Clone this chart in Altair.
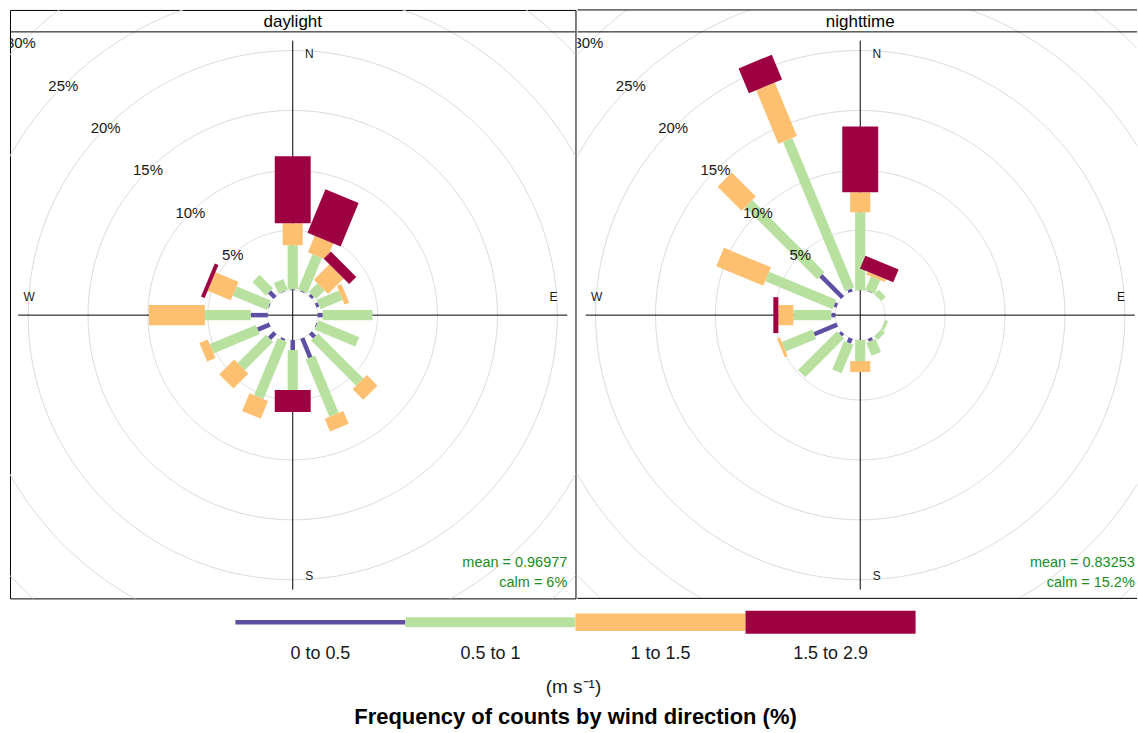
import altair as alt
import numpy as np
import pandas as pd

# ---------------------------------------------------------------- data
directions = ["N", "NNE", "NE", "ENE", "E", "ESE", "SE", "SSE",
              "S", "SSW", "SW", "WSW", "W", "WNW", "NW", "NNW"]
speed_bins = ["0 to 0.5", "0.5 to 1", "1 to 1.5", "1.5 to 2.9"]
panels = ["daylight", "nighttime"]

# frequency (%) of each wind-speed bin, per direction
daylight_0_05 = [0.08, 0.08, 0.25, 0.25, 0.42, 0.08, 0.50, 1.75,
                 0.83, 0.17, 0.67, 1.08, 1.42, 0.08, 0.67, 0.04]
daylight_05_1 = [3.67, 3.17, 1.00, 2.00, 4.16, 3.67, 5.33, 5.17,
                 3.34, 5.16, 3.33, 4.17, 3.83, 3.09, 1.58, 0.96]
daylight_1_15 = [1.83, 1.50, 1.83, 0.42, 0.00, 0.00, 1.25, 1.16,
                 0.00, 1.59, 1.75, 0.75, 4.67, 2.08, 0.00, 0.00]
daylight_15_29 = [5.59, 3.92, 0.84, 0.00, 0.00, 0.00, 0.00, 0.00,
                  1.83, 0.00, 0.00, 0.00, 0.00, 0.33, 0.00, 0.00]

nighttime_0_05 = [0.00, 0.04, 0.00, 0.00, 0.00, 0.00, 0.00, 0.25,
                  0.00, 0.42, 0.25, 2.08, 0.33, 0.25, 2.58, 0.25]
nighttime_05_1 = [6.50, 1.21, 0.50, 0.00, 0.00, 0.25, 0.42, 1.17,
                  1.75, 2.58, 4.58, 2.75, 3.17, 6.08, 8.50, 13.50]
nighttime_1_15 = [1.67, 0.25, 0.00, 0.00, 0.00, 0.00, 0.00, 0.00,
                  0.92, 0.00, 0.00, 0.25, 1.25, 4.25, 2.84, 4.83]
nighttime_15_29 = [5.50, 1.17, 0.00, 0.00, 0.00, 0.00, 0.00, 0.00,
                   0.00, 0.00, 0.00, 0.00, 0.42, 0.00, 0.00, 2.25]

mean_speed = ["0.96977", "0.83253"]
calm_share = ["6%", "15.2%"]

freqs = {
    "daylight": [daylight_0_05, daylight_05_1, daylight_1_15, daylight_15_29],
    "nighttime": [nighttime_0_05, nighttime_05_1, nighttime_1_15, nighttime_15_29],
}

# ---------------------------------------------------------------- style
bin_colours = ["#5E4FA2", "#B8E1A0", "#FDC070", "#9E0142"]
key_heights = [4.5, 10, 17.5, 23]
GRID_COL = "#D9D9D9"
CALM_COL = "#228B22"
FONT = "Liberation Sans"

PANEL_W = 567          # full panel width
NIGHT_W = 561          # visible part of the second panel
PLOT_H = 568
STRIP_H = 22
TOTAL_W = PANEL_W + NIGHT_W
LEGEND_H = 133
KEY_W = 170.5

# ---------------------------------------------------------------- geometry (percent units)
max_freq = max(sum(b[k] for b in bins)
               for bins in freqs.values() for k in range(len(directions)))
off_set = 0.1 * max_freq
reach = max_freq + off_set
half = 1.03 * reach
px = PANEL_W / (2 * half)           # pixels per percent

# paddle widths grow with wind speed
box_half = np.linspace(0.002 ** 0.25, 0.016 ** 0.25, len(speed_bins)) ** 4 * max_freq * 22.5 / 5
bar_widths = [float(w) for w in 2 * box_half * px]

bar_rows = []
for p in panels:
    for k, d in enumerate(directions):
        th = np.deg2rad(22.5 * k)
        cum = off_set
        for j, b in enumerate(speed_bins):
            v = freqs[p][j][k]
            if v > 0:
                r0, r1 = cum, cum + v
                bar_rows.append(dict(panel=p, dir=d, bin=b,
                                     x=r0 * np.sin(th), y=r0 * np.cos(th),
                                     x2=r1 * np.sin(th), y2=r1 * np.cos(th)))
            cum += v
bars = pd.DataFrame(bar_rows)

grid_step = 5
ring_vals = np.arange(0, 2 * max_freq + 1e-9, grid_step)
ang = np.deg2rad(np.arange(0, 360.5, 0.5))
rings = pd.concat([
    pd.DataFrame({"ring": i, "o": np.arange(len(ang)),
                  "x": (off_set + rv) * np.sin(ang), "y": (off_set + rv) * np.cos(ang)})
    for i, rv in enumerate(ring_vals)
])

lab_vals = ring_vals[(ring_vals > 0) & (ring_vals <= 30)]
lab_ang = np.deg2rad(315)
ring_labels = pd.DataFrame({
    "label": [f"{int(v)}%" for v in lab_vals],
    "x": (off_set + lab_vals) * np.sin(lab_ang),
    "y": (off_set + lab_vals) * np.cos(lab_ang),
})

compass = pd.DataFrame({
    "label": ["N", "E", "S", "W"],
    "x": [0.06 * reach, 0.95 * reach, 0.06 * reach, -0.96 * reach],
    "y": [0.95 * reach, 0.065 * reach, -0.95 * reach, 0.065 * reach],
})

cross = pd.DataFrame({
    "x": [-reach, 0.0], "y": [0.0, -reach],
    "x2": [reach, 0.0], "y2": [0.0, reach],
})

one_row = alt.Data(values=[{}])


def panel(idx, width):
    name = panels[idx]
    xs = alt.Scale(domain=[-half, -half + width / px], nice=False, zero=False)
    ys = alt.Scale(domain=[-PLOT_H / 2 / px, (PLOT_H / 2 + STRIP_H) / px],
                   nice=False, zero=False)

    def X(f):
        return alt.X(f, type="quantitative", scale=xs, axis=None)

    def Y(f):
        return alt.Y(f, type="quantitative", scale=ys, axis=None)

    grid = alt.Chart(rings).mark_line(color=GRID_COL, strokeWidth=1, clip=True).encode(
        x=X("x"), y=Y("y"), detail="ring:N", order="o:Q")

    axes_lines = alt.Chart(cross).mark_rule(color="black", strokeWidth=1).encode(
        x=X("x"), y=Y("y"), x2="x2:Q", y2="y2:Q")

    paddles = alt.Chart(bars[bars.panel == name]).mark_rule(strokeCap="butt").encode(
        x=X("x"), y=Y("y"), x2="x2:Q", y2="y2:Q",
        color=alt.Color("bin:N", scale=alt.Scale(domain=speed_bins, range=bin_colours),
                        legend=None),
        size=alt.Size("bin:N", scale=alt.Scale(type="ordinal", domain=speed_bins,
                                               range=bar_widths), legend=None),
    )

    pct = alt.Chart(ring_labels).mark_text(fontSize=15, font=FONT, color="#1a1a1a",
                                           clip=True).encode(
        x=X("x"), y=Y("y"), text="label:N")

    nesw = alt.Chart(compass).mark_text(fontSize=12, font=FONT, color="#1a1a1a").encode(
        x=X("x"), y=Y("y"), text="label:N")

    note = pd.DataFrame({"x": [reach], "y": [-reach],
                         "mean": [f"mean = {mean_speed[idx]}"],
                         "calm": [f"calm = {calm_share[idx]}"]})
    mean_txt = alt.Chart(note).mark_text(align="right", baseline="bottom", dy=-20,
                                         fontSize=14.5, font=FONT, color=CALM_COL).encode(
        x=X("x"), y=Y("y"), text="mean:N")
    calm_txt = alt.Chart(note).mark_text(align="right", baseline="bottom",
                                         fontSize=14.5, font=FONT, color=CALM_COL).encode(
        x=X("x"), y=Y("y"), text="calm:N")

    strip_bot = alt.Chart(one_row).mark_rule(color="black").encode(
        x=alt.value(0), x2=alt.value(width), y=alt.value(STRIP_H))
    strip_txt = alt.Chart(one_row).mark_text(text=name, fontSize=17, font=FONT,
                                             color="black").encode(
        x=alt.value(PANEL_W / 2), y=alt.value(STRIP_H / 2 + 1))

    layers = [grid, axes_lines, paddles, pct, nesw, mean_txt, calm_txt,
              strip_bot, strip_txt]
    if idx == 0:
        view = alt.ViewBackground(stroke="black", strokeWidth=1)
    else:
        # the second panel runs past the page edge: frame only its top and bottom
        view = alt.ViewBackground(strokeWidth=0)
        for yy in (0, PLOT_H + STRIP_H):
            layers.append(alt.Chart(one_row).mark_rule(color="black").encode(
                x=alt.value(0), x2=alt.value(width), y=alt.value(yy)))
    return alt.layer(*layers).properties(width=width, height=PLOT_H + STRIP_H, view=view)


# ---------------------------------------------------------------- colour key
keys = pd.DataFrame({"bin": speed_bins,
                     "i0": np.arange(4), "i1": np.arange(1, 5),
                     "mid": np.arange(4) + 0.5})
lx = alt.Scale(domain=[2 - PANEL_W / KEY_W, 2 + (TOTAL_W - PANEL_W) / KEY_W],
               nice=False, zero=False)

key_bars = alt.Chart(keys).mark_rule(strokeCap="butt").encode(
    x=alt.X("i0:Q", scale=lx, axis=None), x2="i1:Q", y=alt.value(23),
    color=alt.Color("bin:N", scale=alt.Scale(domain=speed_bins, range=bin_colours),
                    legend=None),
    strokeWidth=alt.StrokeWidth("bin:N", scale=alt.Scale(type="ordinal", domain=speed_bins,
                                                         range=key_heights),
                                legend=None),
)
key_text = alt.Chart(keys).mark_text(fontSize=18, font=FONT, color="#1a1a1a").encode(
    x=alt.X("mid:Q", scale=lx, axis=None), y=alt.value(55), text="bin:N")
units = alt.Chart(one_row).mark_text(text="(m s\u207b\u00b9)", fontSize=19, font=FONT,
                                     color="#1a1a1a").encode(
    x=alt.value(PANEL_W - 2), y=alt.value(88))
caption = alt.Chart(one_row).mark_text(text="Frequency of counts by wind direction (%)",
                                       fontSize=22, fontWeight="bold", font=FONT,
                                       color="black").encode(
    x=alt.value(PANEL_W), y=alt.value(118))
legend = alt.layer(key_bars, key_text, units, caption).properties(
    width=TOTAL_W, height=LEGEND_H)

top = alt.hconcat(panel(0, PANEL_W), panel(1, NIGHT_W), spacing=0)
chart = alt.vconcat(top, legend, spacing=0).properties(
    padding={"left": 9, "top": 8, "right": 0, "bottom": 0},
    background="white",
).configure_view(strokeWidth=0)

chart.save("out.html", embed_options={"renderer": "svg", "actions": False})
